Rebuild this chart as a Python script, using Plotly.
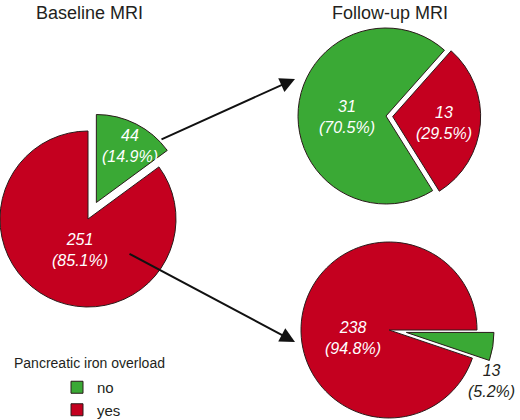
import math
import plotly.graph_objects as go

# ---- data ----
labels = ["no", "yes"]                 # pancreatic iron overload
baseline_values = [44, 251]            # baseline MRI
followup_from_no = [31, 13]            # follow-up of the 44 "no" patients
followup_from_yes = [13, 238]          # follow-up of the 251 "yes" patients

GREEN = "#3aa935"
RED = "#c4001f"
EDGE = "#2a1a1a"
CLEAR = "rgba(0,0,0,0)"
INK = "#231f20"
W, H = 520, 420
FONT = "Liberation Sans, Arial, sans-serif"


def domain(cx, cy, half):
    return dict(x=[max(0, (cx - half) / W), min(1, (cx + half) / W)],
                y=[max(0, 1 - (cy + half) / H), min(1, 1 - (cy - half) / H)])


def pull_offset(values, idx, rotation, pull, r):
    total = sum(values)
    start = sum(values[:idx])
    mid = math.radians(rotation + 360 * (start + values[idx] / 2) / total)
    return pull * r * math.sin(mid), -pull * r * math.cos(mid)


def split_pie(values, rotation, cx, cy, r, pulled_idx, pull):
    """One pie drawn as two layers so the pulled slice keeps full size."""
    traces = []
    dx, dy = pull_offset(values, pulled_idx, rotation, pull, r)
    for layer in range(2):
        show = [(i == pulled_idx) == (layer == 1) for i in range(len(values))]
        base = [GREEN, RED]
        ox, oy = (dx, dy) if layer == 1 else (0, 0)
        traces.append(go.Pie(
            labels=labels, values=values, sort=False, direction="clockwise",
            rotation=rotation, textinfo="none",
            marker=dict(colors=[c if s else CLEAR for c, s in zip(base, show)],
                        line=dict(color=[EDGE if s else CLEAR for s in show], width=1)),
            domain=domain(cx + ox, cy + oy, r),
            showlegend=False, hoverinfo="label+value+percent",
        ))
    return traces


def slice_text(values, i):
    pct = 100 * values[i] / sum(values)
    return f"<i>{values[i]}<br>({pct:.1f}%)</i>"


fig = go.Figure()

# baseline pie
for t in split_pie(baseline_values, 0, 88, 219, 88, 0, 0.21):
    fig.add_trace(t)

# follow-up of "no" (true plotly pull)
top_pull = [0, 0.076]
r_top = 88
fig.add_trace(go.Pie(
    labels=labels, values=followup_from_no, sort=False, direction="clockwise",
    rotation=148, pull=top_pull, textinfo="none",
    marker=dict(colors=[GREEN, RED], line=dict(color=EDGE, width=1)),
    domain=domain(386, 116, r_top * (1 + max(top_pull))),
    showlegend=True, hoverinfo="label+value+percent",
))

# follow-up of "yes"
for t in split_pie(followup_from_yes, 90, 389, 330, 88, 0, 0.2):
    fig.add_trace(t)

# slice labels: (values, index, x px, y px, colour)
label_spots = [
    (baseline_values, 0, 130, 146, "white"),
    (baseline_values, 1, 80, 250, "white"),
    (followup_from_no, 0, 347, 117, "white"),
    (followup_from_no, 1, 444, 123, "white"),
    (followup_from_yes, 1, 353, 338, "white"),
    (followup_from_yes, 0, 491, 381, INK),
]
annotations = [
    dict(text=slice_text(vals, i), x=px / W, y=1 - py / H,
         xref="paper", yref="paper", xanchor="center", yanchor="middle",
         align="center", showarrow=False,
         font=dict(size=16, color=col, family=FONT))
    for vals, i, px, py, col in label_spots
]

annotations += [
    dict(text="Baseline MRI", x=89 / W, y=1 - 13 / H, xref="paper", yref="paper",
         xanchor="center", yanchor="middle", showarrow=False,
         font=dict(size=18, color=INK, family=FONT)),
    dict(text="Follow-up MRI", x=390 / W, y=1 - 13 / H, xref="paper", yref="paper",
         xanchor="center", yanchor="middle", showarrow=False,
         font=dict(size=18, color=INK, family=FONT)),
    dict(text="Pancreatic iron overload", x=12 / W, y=1 - 363 / H,
         xref="paper", yref="paper", xanchor="left", yanchor="middle",
         showarrow=False, font=dict(size=14, color=INK, family=FONT)),
    # arrows
    dict(text="", x=295 / W, y=1 - 79 / H, xref="paper", yref="paper",
         ax=160 - 295, ay=140 - 79, axref="pixel", ayref="pixel",
         showarrow=True, arrowhead=2, arrowsize=1.5, arrowwidth=2,
         arrowcolor="#111", standoff=0),
    dict(text="", x=295 / W, y=1 - 342 / H, xref="paper", yref="paper",
         ax=128 - 295, ay=253 - 342, axref="pixel", ayref="pixel",
         showarrow=True, arrowhead=2, arrowsize=1.5, arrowwidth=2,
         arrowcolor="#111", standoff=0),
]

fig.update_layout(
    width=W, height=H,
    margin=dict(l=0, r=0, t=0, b=0, autoexpand=False),
    paper_bgcolor="white", plot_bgcolor="white",
    font=dict(family=FONT, color=INK),
    annotations=annotations,
    legend=dict(
        font=dict(size=15, family=FONT, color=INK),
        x=57 / W, y=1 - 371 / H, xanchor="left", yanchor="top",
        bgcolor="rgba(0,0,0,0)", traceorder="normal",
    ),
)

fig.write_html(
    "out.html",
    config={"displayModeBar": False},
    post_script="document.body.style.margin='0';document.body.style.padding='0';"
                "document.body.style.overflow='hidden';",
)
